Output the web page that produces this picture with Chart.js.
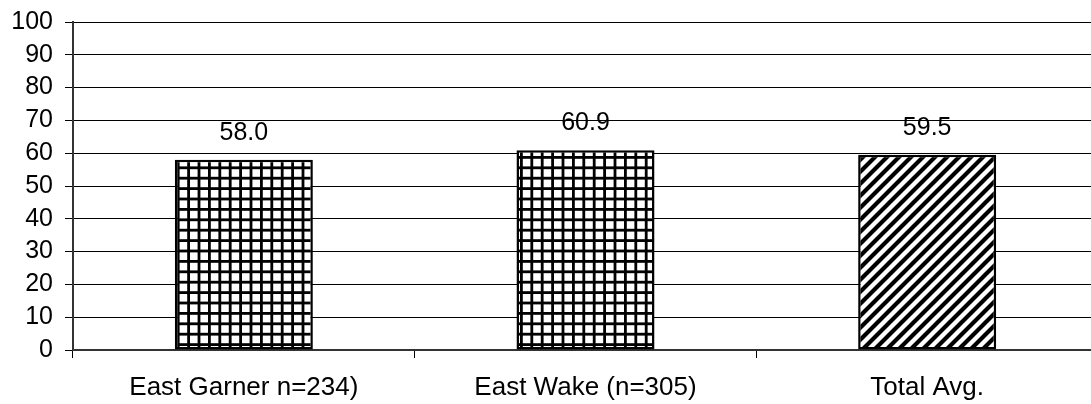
<!DOCTYPE html>
<html>
<head>
<meta charset="utf-8">
<script src="https://cdn.jsdelivr.net/npm/chart.js@4/dist/chart.umd.min.js"></script>
<style>
  html, body { margin: 0; padding: 0; background: #fff; overflow: hidden; }
  #wrap { width: 1091px; height: 404px; overflow: hidden; position: relative; }
  #box { width: 1098px; height: 404px; position: absolute; left: 0; top: 0; }
</style>
</head>
<body>
<div id="wrap"><div id="box"><canvas id="c"></canvas></div></div>
<script>
const categories = ["East Garner n=234)", "East Wake (n=305)", "Total Avg."];
const values = [58.0, 60.9, 59.5];
const valueLabels = ["58.0", "60.9", "59.5"];
const yTicks = [0, 10, 20, 30, 40, 50, 60, 70, 80, 90, 100];

function gridPattern() {
  const cell = 10.4, n = 5, size = Math.round(cell * n);
  const c = document.createElement('canvas');
  c.width = size; c.height = size;
  const g = c.getContext('2d');
  g.fillStyle = '#fff'; g.fillRect(0, 0, size, size);
  g.fillStyle = '#000';
  for (let i = 0; i < n; i++) {
    const p = i * cell;
    g.fillRect(p, 0, 2.8, size);
    g.fillRect(0, p, size, 2.8);
  }
  return document.getElementById('c').getContext('2d').createPattern(c, 'repeat');
}
function diagPattern() {
  const s = 12;
  const c = document.createElement('canvas');
  c.width = s; c.height = s;
  const g = c.getContext('2d');
  g.fillStyle = '#fff'; g.fillRect(0, 0, s, s);
  g.strokeStyle = '#000'; g.lineWidth = 4.2;
  g.beginPath();
  g.moveTo(-s, 2 * s); g.lineTo(2 * s, -s);
  g.moveTo(-s, s); g.lineTo(s, -s);
  g.moveTo(0, 2 * s); g.lineTo(2 * s, 0);
  g.stroke();
  return document.getElementById('c').getContext('2d').createPattern(c, 'repeat');
}

const valueLabelPlugin = {
  id: 'valueLabels',
  afterDatasetsDraw(chart) {
    const ctx = chart.ctx;
    const meta = chart.getDatasetMeta(0);
    ctx.save();
    ctx.font = '25px "Liberation Sans", Arial, sans-serif';
    ctx.fillStyle = '#000';
    ctx.textAlign = 'center';
    ctx.textBaseline = 'middle';
    meta.data.forEach((bar, i) => {
      ctx.fillText(valueLabels[i], bar.x, bar.y - 27);
    });
    ctx.restore();
  }
};

const fills = [gridPattern(), gridPattern(), diagPattern()];

new Chart(document.getElementById('c'), {
  type: 'bar',
  data: {
    labels: categories,
    datasets: [{
      data: values,
      backgroundColor: fills,
      borderColor: '#000',
      borderWidth: 2.5,
      borderSkipped: false,
      categoryPercentage: 1,
      barPercentage: 0.404
    }]
  },
  options: {
    responsive: true,
    maintainAspectRatio: false,
    animation: false,
    layout: { padding: { top: 22, right: 0, left: 0, bottom: 0 } },
    plugins: { legend: { display: false }, tooltip: { enabled: false } },
    scales: {
      x: {
        offset: true,
        grid: { offset: true, drawOnChartArea: false, drawTicks: true, tickLength: 8, color: '#000', lineWidth: 1 },
        border: { color: '#333', width: 2 },
        ticks: { color: '#000', font: { family: '"Liberation Sans", Arial, sans-serif', size: 26 }, padding: 14, maxRotation: 0, autoSkip: false },
        afterFit(scale) { scale.height = 54; scale.paddingLeft = 0; scale.paddingRight = 0; }
      },
      y: {
        min: 0, max: 100,
        afterBuildTicks(scale) { scale.ticks = yTicks.map(v => ({ value: v })); },
        grid: { color: '#000', lineWidth: 1, tickLength: 8 },
        border: { color: '#333', width: 2 },
        ticks: { color: '#000', font: { family: '"Liberation Sans", Arial, sans-serif', size: 25 }, padding: 12, autoSkip: false },
        afterFit(scale) { scale.width = 73; scale.paddingTop = 0; scale.paddingBottom = 0; }
      }
    }
  },
  plugins: [valueLabelPlugin]
});
</script>
</body>
</html>
